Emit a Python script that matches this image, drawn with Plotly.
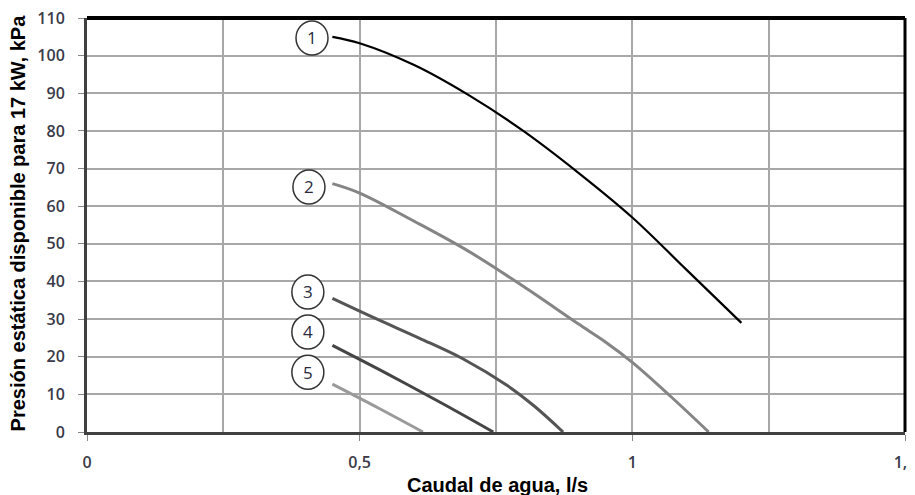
import plotly.graph_objects as go

# ---- data ----
curve_names = ["1", "2", "3", "4", "5"]
c1_x = [0.45, 0.50, 0.60, 0.70, 0.80, 0.90, 1.00, 1.10, 1.20]
c1_y = [105.0, 103.3, 97.5, 89.5, 80.0, 69.0, 57.0, 43.0, 29.0]
c2_x = [0.45, 0.50, 0.60, 0.70, 0.80, 0.90, 0.95, 1.00, 1.07, 1.14]
c2_y = [66.0, 63.5, 56.0, 48.0, 38.7, 28.8, 24.0, 18.5, 9.5, 0.0]
c3_x = [0.45, 0.53, 0.61, 0.69, 0.77, 0.82, 0.873]
c3_y = [35.5, 30.1, 24.9, 19.4, 12.4, 6.9, 0.0]
c4_x = [0.45, 0.55, 0.65, 0.745]
c4_y = [23.0, 15.5, 7.7, 0.0]
c5_x = [0.45, 0.535, 0.616]
c5_y = [12.7, 6.3, 0.0]
label_x = [0.4126, 0.407, 0.405, 0.405, 0.405]
label_y = [104.7, 65.1, 37.2, 26.6, 15.9]
x_ticks = [0, 0.5, 1, 1.5]
y_ticks = [0, 10, 20, 30, 40, 50, 60, 70, 80, 90, 100, 110]

curves = [(c1_x, c1_y), (c2_x, c2_y), (c3_x, c3_y), (c4_x, c4_y), (c5_x, c5_y)]
colors = ["#000000", "#858585", "#555555", "#454545", "#9a9a9a"]
widths = [2.2, 3, 3, 3, 3]

fig = go.Figure()
for (xs, ys), name, col, w in zip(curves, curve_names, colors, widths):
    fig.add_trace(go.Scatter(x=xs, y=ys, mode="lines", name=name,
                             line=dict(color=col, width=w, shape="spline", smoothing=1.0),
                             showlegend=False, hoverinfo="skip"))

tick_font = dict(family="Open Sans", size=16, color="#3a3a48", weight=600)

shapes = []
annotations = []
for lx, ly, name in zip(label_x, label_y, curve_names):
    shapes.append(dict(type="circle", xref="x", yref="y", xsizemode="pixel", ysizemode="pixel",
                       xanchor=lx, yanchor=ly, x0=-16, x1=16, y0=-17, y1=17,
                       line=dict(color="#333333", width=1.5), fillcolor="white", layer="above"))
    annotations.append(dict(x=lx, y=ly, xref="x", yref="y", text=name, showarrow=False,
                            font=dict(family="Open Sans", size=17, color="#2a2a3c")))

# top and right borders
shapes.append(dict(type="line", xref="paper", yref="paper", x0=0, x1=1, y0=1, y1=1,
                   line=dict(color="#000000", width=4), layer="above"))
shapes.append(dict(type="line", xref="paper", yref="paper", x0=1, x1=1, y0=0, y1=1,
                   line=dict(color="#000000", width=3), layer="above"))

annotations.append(dict(x=-0.085, y=0.505, xref="paper", yref="paper", textangle=-90,
                        text="<b>Presión estática disponible para 17 kW, kPa</b>", showarrow=False,
                        xanchor="center", yanchor="middle",
                        font=dict(family="Liberation Sans", size=20, color="#000000")))
annotations.append(dict(x=0.502, y=-0.128, xref="paper", yref="paper",
                        text="<b>Caudal de agua, l/s</b>", showarrow=False,
                        xanchor="center", yanchor="middle",
                        font=dict(family="Liberation Sans", size=20, color="#000000")))

# page body has an 8px margin, so the figure is 8px smaller and margins shifted by 8
fig.update_layout(
    width=907, height=487,
    margin=dict(l=79, r=10, t=10, b=63),
    paper_bgcolor="white", plot_bgcolor="white",
    separators=",.",
    shapes=shapes, annotations=annotations,
    xaxis=dict(range=[0, 1.5], tickvals=x_ticks, showgrid=False, automargin=False,
               showline=True, linecolor="#404040", linewidth=2.5,
               ticks="outside", ticklen=6, tickcolor="#888888", ticklabelstandoff=8,
               ticklabeloverflow="allow",
               tickfont=tick_font, zeroline=False, fixedrange=True),
    yaxis=dict(range=[0, 110], tickvals=y_ticks, showgrid=True, gridcolor="#a8a8a8", gridwidth=2,
               automargin=False,
               showline=True, linecolor="#404040", linewidth=3,
               ticks="outside", ticklen=6, tickcolor="#888888", ticklabelstandoff=10,
               ticklabeloverflow="allow",
               tickfont=tick_font, zeroline=False, fixedrange=True),
)
fig.update_xaxes(minor=dict(dtick=0.25, tick0=0, showgrid=True, gridcolor="#a8a8a8", gridwidth=2, ticks=""))

fig.write_html("out.html")
